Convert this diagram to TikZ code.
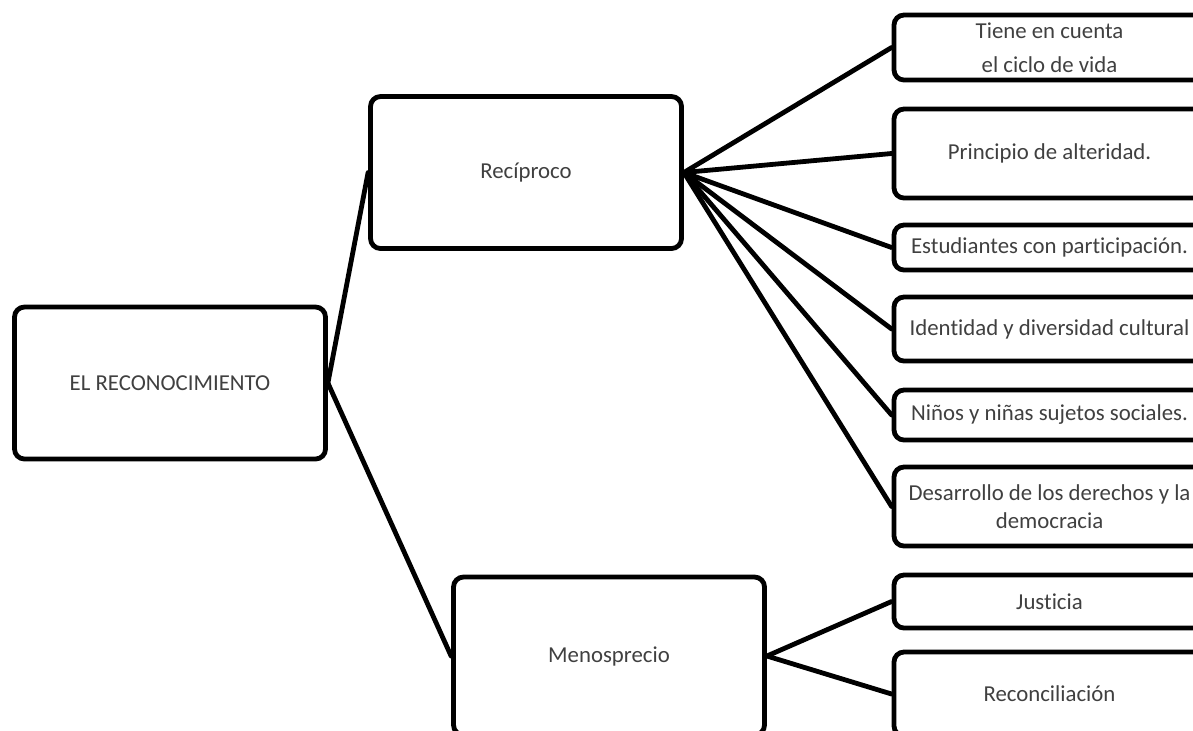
\documentclass[tikz,border=0pt]{standalone}
\usepackage{fontspec}
\setmainfont{Carlito}[Ligatures=NoCommon]
\usepackage{xcolor}
\usetikzlibrary{positioning}
\definecolor{txtgray}{HTML}{404040}
\tikzset{%
   mainbox/.style={
      draw=black,
      fill=white,
      line width=2.4pt,
      rounded corners=5pt,
      minimum width=155.5pt,
      minimum height=76pt,
      text=txtgray,
      font=\fontsize{11.4}{14}\selectfont,
      align=center
   },
   leafbox/.style={
      mainbox,
      minimum height=#1
   },
   link/.style={
      line width=2.4pt,
      line cap=round
   },
}

\begin{document}
\begin{tikzpicture}[x=0.5pt, y=-0.5pt]
   \useasboundingbox (0,0) rectangle (1193,730);
   \clip (0,0) rectangle (1193,730);
   % main branches
   \node[mainbox] (root) at (170,383) {EL RECONOCIMIENTO};
   \node[mainbox] (rec) at (526,172.5) {Recíproco};
   \node[mainbox, minimum height=79pt] (men) at (609,656) {Menosprecio};
   % leaves of Reciproco
   \node[leafbox=32.5pt] (ciclo) at (1049.5,47.5) {Tiene en cuenta\\[3pt] el ciclo de vida};
   \node[leafbox=44.5pt] (alter) at (1049.5,153.5) {Principio de alteridad.};
   \node[leafbox=22.5pt] (estud) at (1049.5,247.5) {Estudiantes con participación.};
   \node[leafbox=32pt] (ident) at (1049.5,329) {Identidad y diversidad cultural};
   \node[leafbox=25pt] (ninos) at (1049.5,415) {Niños y niñas sujetos sociales.};
   \node[leafbox=39.5pt] (derech) at (1049.5,506.5) {Desarrollo de los derechos y la\\ democracia};
   % leaves of Menosprecio
   \node[leafbox=26.5pt] (just) at (1049.5,601.5) {Justicia};
   \node[leafbox=42pt] (recon) at (1049.5,694) {Reconciliación};
   \draw[link] (root.east) -- (rec.west);
   \draw[link] (root.east) -- (men.west);
   \foreach \n in {ciclo,alter,estud,ident,ninos,derech}
      \draw[link] (rec.east) -- (\n.west);
   \draw[link] (men.east) -- (just.west);
   \draw[link] (men.east) -- (recon.west);
\end{tikzpicture}
\end{document}
